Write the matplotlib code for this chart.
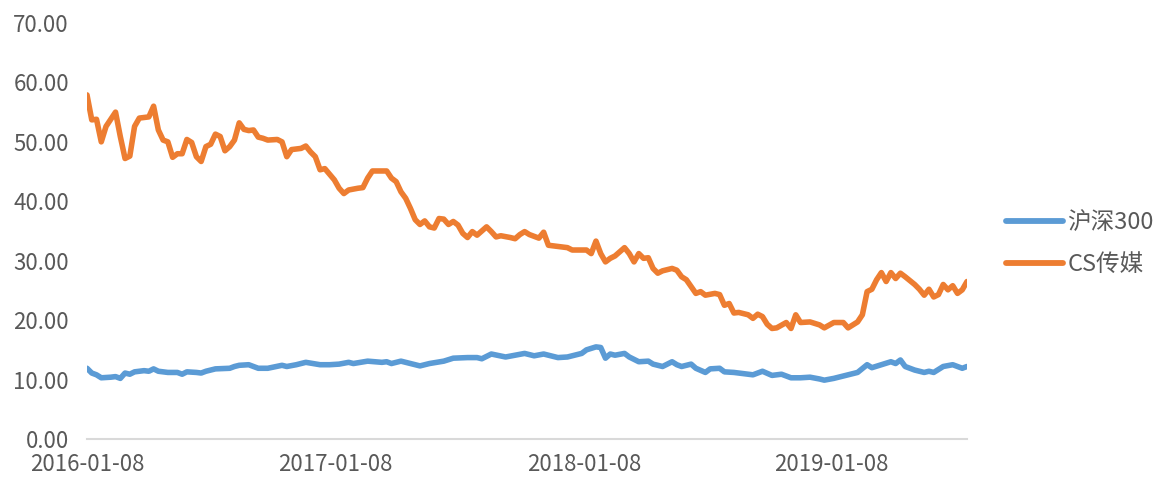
import matplotlib
matplotlib.use("Agg")
import matplotlib.pyplot as plt
import matplotlib.ticker as mticker
import pandas as pd

plt.rcParams['font.family'] = ['Noto Sans CJK SC', 'DejaVu Sans']

start_date = "2016-01-08"
end_date = "2019-07-26"
tick_labels = ["2016-01-08", "2017-01-08", "2018-01-08", "2019-01-08"]
series_names = ["沪深300", "CS传媒"]

# weeks since 2016-01-08 and valuation values
weeks_hs300 = [0, 1, 2, 3, 5, 6, 7, 8, 9, 10, 12, 13, 14, 15, 17, 19, 20, 21, 23, 24,
               25, 27, 30, 31, 32, 34, 36, 38, 41, 42, 44, 46, 49, 51, 53, 55, 56, 59, 62, 63,
               64, 66, 69, 70, 72, 75, 77, 80, 82, 83, 85, 88, 90, 92, 94, 96, 97, 99, 101, 104,
               105, 107, 108, 109, 110, 111, 113, 114, 116, 118, 119, 121, 123, 124, 125, 127, 128, 130, 131, 133,
               134, 136, 139, 140, 142, 144, 146, 148, 150, 152, 154, 155, 157, 160, 162, 164, 165, 167, 169, 170,
               171, 172, 174, 176, 177, 178, 180, 182, 184, 185]
values_hs300 = [11.9, 11.1, 10.8, 10.3, 10.4, 10.5, 10.2, 11.1, 10.9, 11.3, 11.5, 11.4, 11.8, 11.4, 11.2, 11.2, 10.9, 11.3, 11.2, 11.1,
                11.4, 11.8, 11.9, 12.2, 12.4, 12.5, 11.9, 11.9, 12.4, 12.2, 12.5, 12.9, 12.5, 12.5, 12.6, 12.9, 12.7, 13.1, 12.9, 13.0,
                12.7, 13.1, 12.5, 12.3, 12.7, 13.1, 13.6, 13.7, 13.7, 13.5, 14.3, 13.8, 14.1, 14.4, 14.0, 14.3, 14.1, 13.7, 13.8, 14.4,
                15.0, 15.5, 15.4, 13.6, 14.3, 14.1, 14.4, 13.8, 13.0, 13.1, 12.6, 12.2, 13.0, 12.5, 12.2, 12.6, 11.9, 11.2, 11.8, 11.9,
                11.3, 11.2, 10.9, 10.8, 11.4, 10.7, 10.9, 10.3, 10.3, 10.4, 10.1, 9.9, 10.2, 10.8, 11.2, 12.5, 12.0, 12.5, 13.0, 12.7,
                13.3, 12.2, 11.6, 11.2, 11.4, 11.2, 12.2, 12.5, 11.9, 12.2]

weeks_media = [0, 1, 2, 3, 4, 6, 7, 8, 9, 10, 11, 13, 14, 15, 16, 17, 18, 19, 20, 21,
               22, 23, 24, 25, 26, 27, 28, 29, 30, 31, 32, 33, 34, 35, 36, 37, 38, 40, 41, 42,
               43, 45, 46, 47, 48, 49, 50, 52, 53, 54, 55, 57, 58, 59, 60, 62, 63, 64, 65, 66,
               67, 68, 69, 70, 71, 72, 73, 74, 75, 76, 77, 78, 79, 80, 81, 82, 84, 85, 86, 87,
               89, 90, 91, 92, 93, 95, 96, 97, 99, 101, 102, 105, 106, 107, 108, 109, 110, 111, 113, 114,
               115, 116, 117, 118, 119, 120, 121, 123, 124, 125, 126, 128, 129, 130, 132, 133, 134, 135, 136, 137,
               139, 140, 141, 142, 143, 144, 145, 147, 148, 149, 150, 152, 154, 155, 157, 159, 160, 162, 163, 164,
               165, 166, 167, 168, 169, 170, 171, 172, 174, 175, 176, 177, 178, 179, 180, 181, 182, 183, 184, 185]
values_media = [57.9, 53.7, 53.8, 50.0, 52.6, 55.0, 50.9, 47.2, 47.6, 52.6, 54.0, 54.2, 56.0, 52.0, 50.3, 50.0, 47.4, 48.0, 48.0, 50.4,
                49.9, 47.5, 46.7, 49.2, 49.6, 51.3, 50.9, 48.5, 49.2, 50.3, 53.2, 52.1, 51.9, 52.0, 50.8, 50.6, 50.3, 50.4, 50.0, 47.5,
                48.7, 48.9, 49.3, 48.3, 47.5, 45.3, 45.5, 43.6, 42.2, 41.3, 41.9, 42.2, 42.3, 43.9, 45.1, 45.1, 45.1, 43.9, 43.3, 41.6,
                40.5, 38.8, 36.9, 36.1, 36.7, 35.7, 35.5, 37.1, 37.0, 36.1, 36.6, 36.0, 34.6, 33.9, 34.9, 34.3, 35.7, 34.9, 34.0, 34.2,
                33.9, 33.7, 34.4, 34.9, 34.4, 33.8, 34.8, 32.6, 32.4, 32.2, 31.8, 31.8, 31.2, 33.3, 31.2, 29.8, 30.4, 30.8, 32.2, 31.2,
                29.8, 31.2, 30.4, 30.5, 28.7, 27.9, 28.3, 28.7, 28.4, 27.3, 26.8, 24.5, 24.8, 24.2, 24.5, 24.3, 22.5, 22.8, 21.2, 21.3,
                20.9, 20.3, 21.0, 20.6, 19.3, 18.6, 18.7, 19.6, 18.6, 20.9, 19.6, 19.7, 19.2, 18.7, 19.6, 19.6, 18.7, 19.7, 20.9, 24.8,
                25.2, 26.8, 28.0, 26.5, 28.0, 27.0, 27.9, 27.3, 26.0, 25.2, 24.2, 25.2, 23.9, 24.3, 26.0, 25.1, 25.8, 24.5, 25.1, 26.5]

colors = ["#5B9BD5", "#ED7D31"]

t0 = pd.Timestamp(start_date)
dates_hs300 = [t0 + pd.Timedelta(weeks=w) for w in weeks_hs300]
dates_media = [t0 + pd.Timedelta(weeks=w) for w in weeks_media]

fig = plt.figure(figsize=(11.68, 4.78), dpi=100)
ax = fig.add_axes([87/1168, 1 - 439/478, (967-87)/1168, (439-23)/478])

ax.plot(dates_hs300, values_hs300, color=colors[0], lw=4.0, label=series_names[0],
        solid_joinstyle='round', solid_capstyle='round')
ax.plot(dates_media, values_media, color=colors[1], lw=4.0, label=series_names[1],
        solid_joinstyle='round', solid_capstyle='round')

ax.set_xlim(t0, pd.Timestamp(end_date))
ax.set_ylim(0, 70)
ax.yaxis.set_major_locator(mticker.MultipleLocator(10))
ax.yaxis.set_major_formatter(mticker.FormatStrFormatter('%.2f'))
ax.set_xticks([pd.Timestamp(d) for d in tick_labels])
ax.set_xticklabels(tick_labels)

for s in ['top', 'right', 'left']:
    ax.spines[s].set_visible(False)
ax.spines['bottom'].set_color('#d9d9d9')
ax.spines['bottom'].set_linewidth(1.5)
ax.tick_params(axis='both', length=0, labelsize=16, colors='#595959')
ax.tick_params(axis='y', pad=13)
ax.tick_params(axis='x', pad=10)

leg = fig.legend(loc='center left', bbox_to_anchor=(1006/1168, 1 - 243.5/478),
                 frameon=False, fontsize=17, handlelength=2.4, handletextpad=0.2,
                 labelspacing=0.8, borderpad=0, borderaxespad=0)
for t in leg.get_texts():
    t.set_color('#595959')
for l in leg.get_lines():
    l.set_linewidth(4.2)

fig.savefig("out.png", dpi=100)
